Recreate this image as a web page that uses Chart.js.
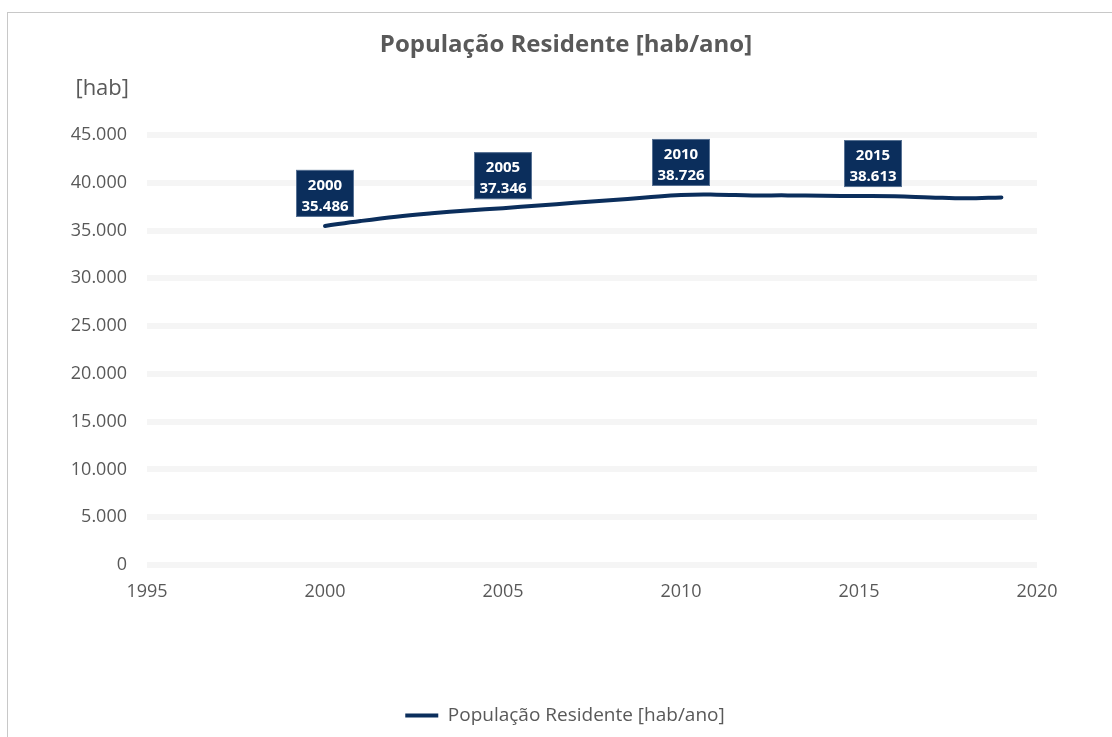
<!DOCTYPE html>
<html>
<head>
<meta charset="utf-8">
<script src="https://cdn.jsdelivr.net/npm/chart.js@4.4.1/dist/chart.umd.min.js"></script>
<style>
  html, body { margin: 0; padding: 0; background: #fff; overflow: hidden; }
  #frame { position: absolute; left: 7px; top: 12px; width: 1200px; height: 800px; border: 1px solid #c8c8c8; }
  #wrap { position: absolute; left: 0; top: 0; width: 1112px; height: 737px; }
</style>
</head>
<body>
<div id="frame"></div>
<div id="wrap"><canvas id="grafico" width="1112" height="737"></canvas></div>
<script>
// população residente por ano
var anos = [2000, 2001, 2002, 2003, 2004, 2005, 2006, 2007, 2008, 2009,
            2010, 2011, 2012, 2013, 2014, 2015, 2016, 2017, 2018, 2019];
var populacao = [35486, 36000, 36450, 36800, 37100, 37346, 37620, 37900, 38170, 38450,
                 38726, 38760, 38680, 38680, 38630, 38613, 38590, 38470, 38370, 38470];
var anosRotulados = [2000, 2005, 2010, 2015];
var ticksX = [1995, 2000, 2005, 2010, 2015, 2020];

var titulo = 'População Residente [hab/ano]';
var unidadeY = '[hab]';

var AZUL = '#0b2e5c';
var CINZA = '#595959';
var FONTE = '"Open Sans", "Noto Sans", sans-serif';

function milhares(v) {
  return String(v).replace(/\B(?=(\d{3})+(?!\d))/g, '.');
}

// título, unidade do eixo y e caixas azuis com ano e valor
var rotulos = {
  id: 'rotulos',
  afterLayout: function (chart) {
    // legenda centrada na área entre 93 e 1037 px
    chart.legend.left = 93;
    chart.legend.right = 1037;
    chart.legend.width = 1037 - 93;
  },
  afterDatasetsDraw: function (chart) {
    var ctx = chart.ctx;
    var meta = chart.getDatasetMeta(0);
    var desvio = { 2015: 14 };
    ctx.save();
    anosRotulados.forEach(function (ano) {
      var i = anos.indexOf(ano);
      var pt = meta.data[i];
      var cx = pt.x + (desvio[ano] || 0);
      var w = 58, h = 47;
      var top = pt.y - 9 - h;
      ctx.fillStyle = AZUL;
      ctx.fillRect(cx - w / 2, top, w, h);
      ctx.strokeStyle = 'rgba(140,160,185,0.6)';
      ctx.lineWidth = 1;
      ctx.strokeRect(cx - w / 2 + 0.5, top + 0.5, w - 1, h - 1);
      ctx.fillStyle = '#fff';
      ctx.font = 'bold 15px ' + FONTE;
      ctx.textAlign = 'center';
      ctx.textBaseline = 'middle';
      ctx.fillText(String(ano), cx, top + 16);
      ctx.fillText(milhares(populacao[i]), cx, top + 37);
    });
    ctx.fillStyle = CINZA;
    ctx.textBaseline = 'middle';
    ctx.font = 'bold 24px ' + FONTE;
    ctx.textAlign = 'center';
    ctx.fillText(titulo, 566, 45);
    ctx.font = '22px ' + FONTE;
    ctx.textAlign = 'right';
    ctx.fillText(unidadeY, 129, 89);
    ctx.restore();
  }
};

var ctx = document.getElementById('grafico').getContext('2d');
var myChart = new Chart(ctx, {
  type: 'line',
  data: {
    labels: anos,
    datasets: [{
      label: titulo,
      data: anos.map(function (a, i) { return { x: a, y: populacao[i] }; }),
      borderColor: AZUL,
      backgroundColor: AZUL,
      borderWidth: 4,
      borderCapStyle: 'round',
      pointRadius: 0,
      tension: 0.4,
      fill: false
    }]
  },
  options: {
    responsive: false,
    animation: false,
    layout: { padding: { left: 0, right: 75, top: 135, bottom: 2 } },
    plugins: {
      title: { display: false },
      legend: {
        position: 'bottom',
        labels: {
          color: CINZA,
          font: { family: FONTE, size: 19 },
          usePointStyle: true,
          pointStyle: 'line',
          pointStyleWidth: 33,
          padding: 10
        }
      },
      tooltip: { enabled: false }
    },
    scales: {
      x: {
        type: 'linear',
        min: 1995,
        max: 2020,
        afterFit: function (s) { s.height = 131; },
        afterBuildTicks: function (s) { s.ticks = ticksX.map(function (v) { return { value: v }; }); },
        ticks: {
          color: CINZA,
          font: { family: FONTE, size: 18 },
          padding: 16,
          callback: function (v) { return String(v); }
        },
        grid: { display: false, drawTicks: false },
        border: { display: false }
      },
      y: {
        min: 0,
        max: 45000,
        afterFit: function (s) { s.width = 147; },
        ticks: {
          stepSize: 5000,
          color: CINZA,
          font: { family: FONTE, size: 18 },
          padding: 20,
          callback: function (v) { return milhares(v); }
        },
        grid: { color: '#f5f5f5', lineWidth: 6, drawTicks: false },
        border: { display: false }
      }
    }
  },
  plugins: [rotulos]
});
</script>
</body>
</html>
